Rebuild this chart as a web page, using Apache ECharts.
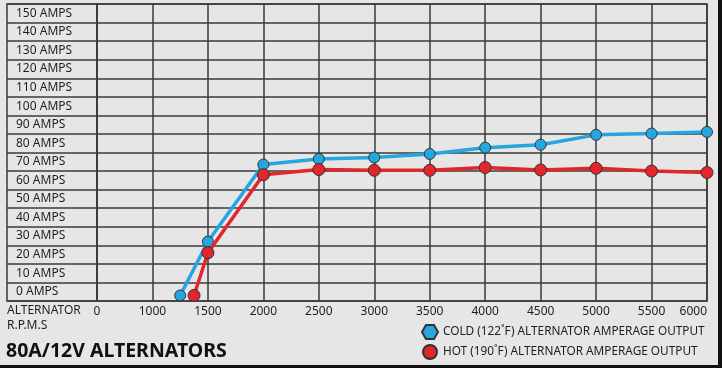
<!DOCTYPE html>
<html><head><meta charset="utf-8">
<script src="https://cdn.jsdelivr.net/npm/echarts@6/dist/echarts.min.js"></script>
<style>html,body{margin:0;padding:0;background:#e6e6e6}#c{width:722px;height:368px}</style>
</head><body><div id="c"></div>
<script>
// RPM positions (tick "0" is drawn at the 500 slot, one column left of 1000)
const rpmTicks = [500, 1000, 1500, 2000, 2500, 3000, 3500, 4000, 4500, 5000, 5500, 6000];
const rpmTickLabels = ['0', '1000', '1500', '2000', '2500', '3000', '3500', '4000', '4500', '5000', '5500', '6000'];
const ampLabels = ['0 AMPS','10 AMPS','20 AMPS','30 AMPS','40 AMPS','50 AMPS','60 AMPS','70 AMPS','80 AMPS','90 AMPS','100 AMPS','110 AMPS','120 AMPS','130 AMPS','140 AMPS','150 AMPS'];
const coldRpm = [1250, 1500, 2000, 2500, 3000, 3500, 4000, 4500, 5000, 5500, 6000];
const coldAmps = [-2, 27, 68.5, 71.5, 72.3, 74.2, 77.6, 79.2, 84.5, 85.2, 86.1];
const hotRpm = [1375, 1500, 2000, 2500, 3000, 3500, 4000, 4500, 5000, 5500, 6000];
const hotAmps = [-2, 21, 63, 65.8, 65.4, 65.4, 66.9, 65.6, 66.5, 65, 64.2];
const coldName = 'COLD (122˚F) ALTERNATOR AMPERAGE OUTPUT';
const hotName = 'HOT (190˚F) ALTERNATOR AMPERAGE OUTPUT';

const lineCol = '#3a3a3a';
const txt = '#1e1e1e';
const font = 'Noto Sans';
const hexPath = 'path://M4,0 L12,0 L16,7 L12,14 L4,14 L0,7 Z';

const chart = echarts.init(document.getElementById('c'), null, {renderer: 'canvas'});
chart.setOption({
  backgroundColor: '#e6e6e6',
  animation: false,
  textStyle: {fontFamily: font},
  grid: [
    {left: 7, width: 90, top: 4, bottom: 67, show: true, borderColor: lineCol, borderWidth: 1.5, backgroundColor: 'transparent'},
    {left: 97, right: 15, top: 4, bottom: 67, show: true, borderColor: lineCol, borderWidth: 1.5, backgroundColor: 'transparent'}
  ],
  xAxis: [
    {gridIndex: 0, type: 'value', min: 0, max: 1, show: false},
    {gridIndex: 1, type: 'value', min: 500, max: 6000, interval: 500,
     axisLine: {show: false}, axisTick: {show: false},
     splitLine: {show: true, lineStyle: {color: lineCol, width: 1.5}},
     axisLabel: {color: txt, fontSize: 12, fontFamily: font, margin: 5, alignMaxLabel: 'right',
       formatter: v => { const i = rpmTicks.indexOf(v); return i >= 0 ? rpmTickLabels[i] : ''; }}}
  ],
  yAxis: [
    {gridIndex: 0, type: 'category', data: ampLabels, boundaryGap: true,
     axisLine: {show: false}, axisTick: {show: false},
     splitLine: {show: true, interval: 0, lineStyle: {color: lineCol, width: 1.5}},
     axisLabel: {inside: true, margin: 9, color: txt, fontSize: 12, fontFamily: font, interval: 0}},
    {gridIndex: 1, type: 'value', min: -5, max: 155, interval: 10,
     axisLine: {show: false}, axisTick: {show: false}, axisLabel: {show: false},
     splitLine: {show: true, lineStyle: {color: lineCol, width: 1.5}}}
  ],
  legend: {
    orient: 'vertical', left: 416, top: 319, itemGap: 4, itemWidth: 16, itemHeight: 14,
    textStyle: {color: txt, fontSize: 11.8, fontFamily: font},
    data: [{name: coldName, icon: hexPath}, {name: hotName, icon: 'circle'}]
  },
  series: [
    {name: coldName, type: 'line', xAxisIndex: 1, yAxisIndex: 1,
     data: coldRpm.map((x, i) => [x, coldAmps[i]]),
     symbol: 'circle', symbolSize: 11, z: 3,
     lineStyle: {color: '#25a6e0', width: 3.5},
     itemStyle: {color: '#25a6e0', borderColor: '#333', borderWidth: 1}},
    {name: hotName, type: 'line', xAxisIndex: 1, yAxisIndex: 1,
     data: hotRpm.map((x, i) => [x, hotAmps[i]]),
     symbol: 'circle', symbolSize: 12, z: 4,
     lineStyle: {color: '#e2262b', width: 3.5},
     itemStyle: {color: '#e2262b', borderColor: '#333', borderWidth: 1}}
  ],
  graphic: [
    {type: 'text', left: 7, top: 305, style: {text: 'ALTERNATOR', fill: txt, font: '12px "Noto Sans"'}},
    {type: 'text', left: 7, top: 320, style: {text: 'R.P.M.S', fill: txt, font: '12px "Noto Sans"'}},
    {type: 'text', left: 6, top: 341, style: {text: '80A/12V ALTERNATORS', fill: '#111', font: 'bold 19.5px "Noto Sans"'}},
    {type: 'rect', shape: {x: 718, y: 0, width: 4, height: 368}, style: {fill: '#111'}},
    {type: 'rect', shape: {x: 0, y: 365, width: 722, height: 3}, style: {fill: '#111'}}
  ]
});
</script></body></html>
